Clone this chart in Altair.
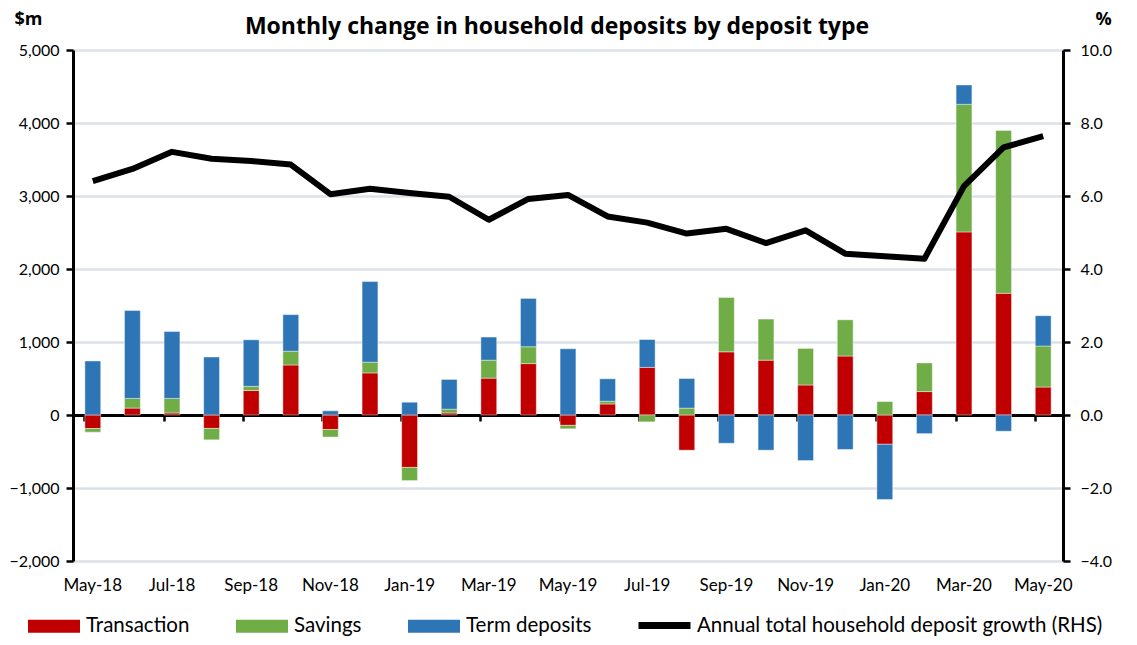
import altair as alt
import pandas as pd

months = ["May-18", "Jun-18", "Jul-18", "Aug-18", "Sep-18", "Oct-18", "Nov-18", "Dec-18",
          "Jan-19", "Feb-19", "Mar-19", "Apr-19", "May-19", "Jun-19", "Jul-19", "Aug-19",
          "Sep-19", "Oct-19", "Nov-19", "Dec-19", "Jan-20", "Feb-20", "Mar-20", "Apr-20", "May-20"]
transaction = [-185, 95, 28, -184, 335, 685, -198, 576, -718, 28, 505, 704, -142, 151, 652, -482,
               865, 751, 411, 808, -401, 321, 2508, 1667, 383]
savings = [-50, 132, 199, -156, 57, 189, -104, 147, -180, 52, 246, 231, -47, 38, -94, 94,
           746, 563, 501, 496, 184, 392, 1748, 2230, 562]
term_deposits = [740, 1204, 916, 794, 638, 501, 57, 1105, 175, 407, 317, 662, 907, 307, 382, 406,
                 -387, -482, -624, -472, -756, -255, 265, -222, 415]
growth = [6.41, 6.74, 7.21, 7.02, 6.96, 6.86, 6.05, 6.20, 6.08, 5.98, 5.35, 5.92, 6.03, 5.44, 5.27, 4.97,
          5.10, 4.71, 5.06, 4.42, 4.35, 4.28, 6.27, 7.33, 7.64]

types = ["Transaction", "Savings", "Term deposits"]
colors = ["#C00000", "#70AD47", "#2E75B6"]
line_name = "Annual total household deposit growth (RHS)"

label_months = months[::2]
left_ticks = [-2000, -1000, 0, 1000, 2000, 3000, 4000, 5000]
right_ticks = [-4.0, -2.0, 0.0, 2.0, 4.0, 6.0, 8.0, 10.0]

rows = []
for i, m in enumerate(months):
    for k, (t, series) in enumerate(zip(types, [transaction, savings, term_deposits])):
        rows.append({"month": m, "type": t, "value": series[i], "order": k})
bar_df = pd.DataFrame(rows)
line_df = pd.DataFrame({"month": months, "growth": growth, "series": [line_name] * len(months)})

W, H = 990, 511
zero_offset = -round(H * 2 / 7)
FONT = "Lato"
TFONT = "Open Sans"

xscale = alt.Scale(domain=months, paddingInner=0.6, paddingOuter=0.3)

bars = alt.Chart(bar_df).mark_bar(stroke="white", strokeWidth=0.6, strokeOpacity=0.7).encode(
    x=alt.X("month:N", sort=months, scale=xscale,
            axis=alt.Axis(orient="bottom", values=label_months, bandPosition=0, labels=False,
                          title=None, domain=True, domainColor="black", domainWidth=3,
                          ticks=True, tickColor="black", tickWidth=2.5, tickSize=6,
                          offset=zero_offset, grid=False)),
    y=alt.Y("value:Q", stack="zero", scale=alt.Scale(domain=[-2000, 5000], nice=False),
            axis=alt.Axis(values=left_ticks, format=",.0f", title="$m", titleAngle=0,
                          titleX=-59, titleY=-31, titleAlign="left", titleBaseline="middle",
                          titleFontSize=18, titleFontWeight="bold", titleFont=TFONT,
                          titleColor="black",
                          labelFont=FONT, labelFontSize=16, labelColor="black", labelPadding=7,
                          domainColor="black", domainWidth=3, tickColor="black", tickWidth=2.5,
                          tickSize=7, grid=True, gridColor="#DCE1E8", gridWidth=2.5)),
    color=alt.Color("type:N", scale=alt.Scale(domain=types, range=colors),
                    legend=alt.Legend(title=None, orient="none", legendX=-45, legendY=550,
                                      direction="horizontal", columnPadding=46,
                                      symbolType="M-1,-0.25L1,-0.25L1,0.25L-1,0.25Z",
                                      symbolSize=2704, symbolStrokeWidth=0, labelOffset=6,
                                      labelFont=FONT, labelFontSize=20.5, labelColor="black")),
    order=alt.Order("order:Q"),
)

line = alt.Chart(line_df).mark_line(strokeWidth=6, strokeJoin="round").encode(
    x=alt.X("month:N", sort=months, scale=xscale,
            axis=alt.Axis(orient="bottom", values=label_months, title=None, ticks=False,
                          domain=False, grid=False, labelAngle=0, labelFont=FONT,
                          labelFontSize=17, labelColor="black", labelPadding=16)),
    y=alt.Y("growth:Q", scale=alt.Scale(domain=[-4, 10], nice=False),
            axis=alt.Axis(orient="right", values=right_ticks, format=".1f", title="%", titleAngle=0,
                          titleX=40, titleY=-31, titleAlign="center", titleBaseline="middle",
                          titleFontSize=18, titleFontWeight="bold", titleFont=TFONT,
                          titleColor="black",
                          labelFont=FONT, labelFontSize=16, labelColor="black", labelPadding=10,
                          domainColor="black", domainWidth=3, tickColor="black", tickWidth=2.5,
                          tickSize=7, grid=False)),
    stroke=alt.Stroke("series:N", scale=alt.Scale(domain=[line_name], range=["black"]),
                      legend=alt.Legend(title=None, orient="none", legendX=562, legendY=546,
                                        symbolType="stroke", symbolSize=2704, symbolStrokeWidth=7,
                                        labelOffset=3, labelLimit=0, labelFont=FONT,
                                        labelFontSize=20.5, labelColor="black")),
)

chart = alt.layer(bars, line).resolve_scale(y="independent").resolve_axis(x="independent").properties(
    width=W, height=H,
    title=alt.TitleParams("Monthly change in household deposits by deposit type", font=TFONT,
                          fontSize=23, fontWeight="bold", color="black", anchor="middle",
                          offset=-29, dx=-11),
    padding={"left": 0, "right": 5, "top": 2, "bottom": 0},
).configure_view(strokeWidth=0)

chart.save("out.html", embed_options={"renderer": "svg", "actions": False})
